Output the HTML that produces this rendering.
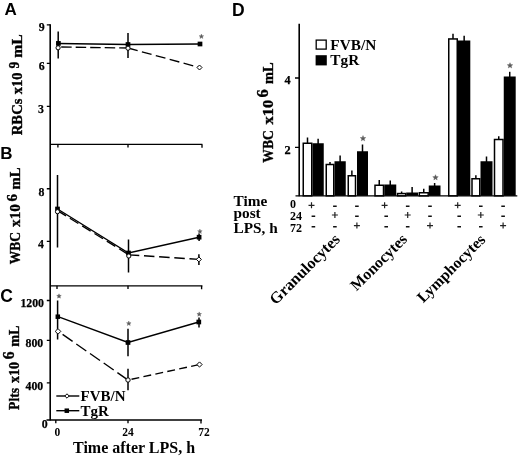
<!DOCTYPE html>
<html>
<head>
<meta charset="utf-8">
<title>Figure</title>
<style>
html,body{margin:0;padding:0;background:#fff;}
body{width:520px;height:456px;overflow:hidden;}
svg{display:block;filter:blur(0.35px);}
text{font-family:"Liberation Serif",serif;font-weight:bold;fill:#000;}
.sans{font-family:"Liberation Sans",sans-serif;font-weight:bold;}
.pm{font-family:"Liberation Sans",sans-serif;font-weight:normal;fill:#333;font-size:10.5px;text-anchor:middle;}
.star{font-family:"Liberation Sans",sans-serif;font-weight:normal;fill:#666;font-size:11px;text-anchor:middle;}
.tl{font-size:11.8px;text-anchor:end;stroke:#000;stroke-width:0.25;}
.vl{stroke:#000;stroke-width:0.35;}
.stp{fill:#5a5a5a;stroke:#5a5a5a;stroke-width:0.4;stroke-linejoin:round;}
.ax{stroke:#000;stroke-width:1.6;fill:none;}
.hx{stroke:#000;stroke-width:1.3;fill:none;}
.tk{stroke:#000;stroke-width:1.35;fill:none;}
.ln{stroke:#000;stroke-width:1.4;fill:none;}
.dl{stroke:#000;stroke-width:1.35;fill:none;}
.eb{stroke:#000;stroke-width:1.5;fill:none;}
.sq{fill:#000;stroke:none;}
.dm{fill:#fff;stroke:#000;stroke-width:1;}
.wb{fill:#fff;stroke:#000;stroke-width:1.5;}
.bb{fill:#000;stroke:#000;stroke-width:0.5;}
</style>
</head>
<body>
<svg width="520" height="456" viewBox="0 0 520 456">
<rect x="0" y="0" width="520" height="456" fill="#fff"/>

<!-- LEFT COLUMN: shared y axis -->
<line class="ax" x1="50.2" y1="24.2" x2="50.2" y2="420.6"/>
<line class="hx" x1="50" y1="144.4" x2="202.4" y2="144.4"/>
<line class="hx" x1="50" y1="285.8" x2="202.4" y2="285.8"/>
<line class="hx" x1="46.5" y1="420" x2="202" y2="420"/>
<path class="tk" d="M57.9 144.4v3.2M128 144.4v3.2M202 144.4v3.4"/>
<path class="tk" d="M57 285.8v3.2M128 285.8v3.2M201.6 285.8v3.4"/>
<path class="tk" d="M55.8 420v3.2M128 420v3.2M201 420v3.4"/>
<!-- Panel A -->
<text class="sans" x="4.6" y="14.8" font-size="17">A</text>
<path class="tk" d="M46.8 24.9h3.5M46.8 63.4h3.5M46.8 106.3h3.5"/>
<text class="tl" x="44.6" y="31.4">9</text>
<text class="tl" x="44.6" y="69.7">6</text>
<text class="tl" x="43.8" y="112.9">3</text>
<text transform="translate(21.90,135.20) rotate(-90)" font-size="14" textLength="36.60" lengthAdjust="spacingAndGlyphs" class="vl">RBCs</text>
<text transform="translate(21.90,94.30) rotate(-90)" font-size="14" textLength="21.70" lengthAdjust="spacingAndGlyphs" class="vl">x10</text>
<text transform="translate(19.20,68.40) rotate(-90)" font-size="14" textLength="6.80" lengthAdjust="spacingAndGlyphs" class="vl">9</text>
<text transform="translate(21.90,57.70) rotate(-90)" font-size="14" textLength="23.30" lengthAdjust="spacingAndGlyphs" class="vl">mL</text>
<path class="eb" d="M58.2 31.4v27M128 33v25"/>
<line class="dl" x1="58.2" y1="47" x2="128" y2="48" stroke-dasharray="10.5 4" stroke-dashoffset="-3"/>
<line class="dl" x1="128" y1="48" x2="199.5" y2="67.5" stroke-dasharray="10 4.4" stroke-dashoffset="0"/>
<polyline class="ln" points="58.2,43.5 128,44.5 200,44"/>
<rect class="sq" x="56.05" y="41.05" width="4.7" height="4.7"/>
<rect class="sq" x="125.65" y="42.15" width="4.7" height="4.7"/>
<rect class="sq" x="197.65" y="41.65" width="4.7" height="4.7"/>
<circle class="dm" cx="58.1" cy="47.8" r="2.1"/>
<circle class="dm" cx="128" cy="48.2" r="2.1"/>
<path class="dm" d="M199.5 65.0l2.5 2.5l-2.5 2.5l-2.5 -2.5z"/>
<polygon class="stp" points="201.40,34.10 202.02,35.65 203.68,35.76 202.40,36.82 202.81,38.44 201.40,37.55 199.99,38.44 200.40,36.82 199.12,35.76 200.78,35.65"/>
<!-- Panel B -->
<text class="sans" x="0.3" y="158.6" font-size="17">B</text>
<path class="tk" d="M46.8 188.7h3.5M46.8 241.3h3.5"/>
<text class="tl" x="44.3" y="196.2">8</text>
<text class="tl" x="43.8" y="248.3">4</text>
<text transform="translate(20.30,264.20) rotate(-90)" font-size="14" textLength="32.20" lengthAdjust="spacingAndGlyphs" class="vl">WBC</text>
<text transform="translate(20.30,226.90) rotate(-90)" font-size="14" textLength="22.70" lengthAdjust="spacingAndGlyphs" class="vl">x10</text>
<text transform="translate(17.00,201.60) rotate(-90)" font-size="14.6" textLength="7.40" lengthAdjust="spacingAndGlyphs" class="vl">6</text>
<text transform="translate(20.30,189.40) rotate(-90)" font-size="14" textLength="22.00" lengthAdjust="spacingAndGlyphs" class="vl">mL</text>
<path class="eb" d="M57.5 175v72.5M128.5 239.5v33M198.9 254.3v10.7M199.1 233.5v7.5"/>
<line class="dl" x1="57.5" y1="210.6" x2="128.8" y2="254.8" stroke-dasharray="10 4.5" stroke-dashoffset="0"/>
<line class="dl" x1="128.8" y1="254.8" x2="198.9" y2="259.4" stroke-dasharray="10.5 4.7" stroke-dashoffset="0"/>
<polyline class="ln" points="57.5,209 128.5,253 199.1,237.2"/>
<rect class="sq" x="55.15" y="206.65" width="4.7" height="4.7"/>
<rect class="sq" x="126.15" y="250.65" width="4.7" height="4.7"/>
<rect class="sq" x="196.75" y="234.85" width="4.7" height="4.7"/>
<circle class="dm" cx="57.5" cy="211.7" r="2.1"/>
<circle class="dm" cx="128.8" cy="256" r="2.1"/>
<path class="dm" d="M198.9 256.9l2.5 2.5l-2.5 2.5l-2.5 -2.5z"/>
<polygon class="stp" points="199.90,229.10 200.52,230.65 202.18,230.76 200.90,231.82 201.31,233.44 199.90,232.55 198.49,233.44 198.90,231.82 197.62,230.76 199.28,230.65"/>
<!-- Panel C -->
<text class="sans" x="0.3" y="302.4" font-size="17.5">C</text>
<path class="tk" d="M46.8 300.5h3.5M46.8 340.4h3.5M46.8 382.8h3.5"/>
<text class="tl" x="44" y="306.9">1200</text>
<text class="tl" x="43.2" y="347">800</text>
<text class="tl" x="43.2" y="389.8">400</text>
<text class="tl" x="47.6" y="427.7">0</text>
<text transform="translate(19.00,409.90) rotate(-90)" font-size="14.5" textLength="21.90" lengthAdjust="spacingAndGlyphs" class="vl">Plts</text>
<text transform="translate(19.00,383.00) rotate(-90)" font-size="14.5" textLength="21.00" lengthAdjust="spacingAndGlyphs" class="vl">x10</text>
<text transform="translate(13.70,359.30) rotate(-90)" font-size="16.5" textLength="7.80" lengthAdjust="spacingAndGlyphs" class="vl">6</text>
<text transform="translate(19.00,346.80) rotate(-90)" font-size="14.5" textLength="21.30" lengthAdjust="spacingAndGlyphs" class="vl">mL</text>
<path class="eb" d="M57.6 300.4v39.2M128 328.7v27.5M128 368.7v21.5M199 317.5v10"/>
<line class="dl" x1="58" y1="331.2" x2="128" y2="380" stroke-dasharray="12.2 4.5" stroke-dashoffset="-5.6"/>
<line class="dl" x1="128" y1="380" x2="199.5" y2="364.5" stroke-dasharray="7.9 4.3" stroke-dashoffset="-3.6"/>
<polyline class="ln" points="58,316.7 128,342.5 198.8,322"/>
<rect class="sq" x="55.55" y="314.45" width="4.5" height="4.5"/>
<rect class="sq" x="125.65" y="340.15" width="4.7" height="4.7"/>
<rect class="sq" x="196.45" y="319.65" width="4.7" height="4.7"/>
<path class="dm" d="M58 328.59999999999997l2.8 2.8l-2.8 2.8l-2.8 -2.8z"/>
<circle class="dm" cx="128" cy="380" r="2.2"/>
<path class="dm" d="M199.5 361.9l2.6 2.6l-2.6 2.6l-2.6 -2.6z"/>
<polygon class="stp" points="59.00,293.80 59.62,295.35 61.28,295.46 60.00,296.52 60.41,298.14 59.00,297.25 57.59,298.14 58.00,296.52 56.72,295.46 58.38,295.35"/>
<polygon class="stp" points="128.80,321.10 129.42,322.65 131.08,322.76 129.80,323.82 130.21,325.44 128.80,324.55 127.39,325.44 127.80,323.82 126.52,322.76 128.18,322.65"/>
<polygon class="stp" points="199.20,311.90 199.82,313.45 201.48,313.56 200.20,314.62 200.61,316.24 199.20,315.35 197.79,316.24 198.20,314.62 196.92,313.56 198.58,313.45"/>
<line class="ln" x1="56.3" y1="396" x2="79.3" y2="396" stroke-width="1.2"/>
<path class="dm" d="M67 393.8l2.2 2.2l-2.2 2.2l-2.2 -2.2z"/>
<text x="80.5" y="400.8" font-size="15">FVB/N</text>
<line class="ln" x1="56.3" y1="410.7" x2="79.3" y2="410.7" stroke-width="1.2"/>
<rect class="sq" x="64.55" y="408.45" width="4.5" height="4.5"/>
<text x="80.5" y="415.5" font-size="15">TgR</text>
<text x="57.3" y="435.7" font-size="11.5" text-anchor="middle">0</text>
<text x="128" y="435.7" font-size="11.5" text-anchor="middle">24</text>
<text x="204" y="435.7" font-size="11.5" text-anchor="middle">72</text>
<text x="73" y="452.6" font-size="16">Time after LPS, h</text>
<!-- PANEL D -->
<text class="sans" x="231.9" y="15.9" font-size="17.5">D</text>
<line class="ax" x1="299.2" y1="23.7" x2="299.2" y2="196.3"/>
<line class="hx" x1="295.5" y1="195.9" x2="517.3" y2="195.9" stroke-width="1.9"/>
<path class="tk" d="M295 78h4M295 147.4h4"/>
<text class="tl" x="290.6" y="84.4" style="font-size:12.3px">4</text>
<text class="tl" x="290.6" y="153.9" style="font-size:12.3px">2</text>
<text transform="translate(272.50,162.70) rotate(-90)" font-size="14" textLength="32.50" lengthAdjust="spacingAndGlyphs" class="vl">WBC</text>
<text transform="translate(272.50,124.50) rotate(-90)" font-size="14" textLength="24.60" lengthAdjust="spacingAndGlyphs" class="vl">x10</text>
<text transform="translate(267.70,97.60) rotate(-90)" font-size="16.5" textLength="8.20" lengthAdjust="spacingAndGlyphs" class="vl">6</text>
<text transform="translate(272.50,84.00) rotate(-90)" font-size="14" textLength="21.60" lengthAdjust="spacingAndGlyphs" class="vl">mL</text>
<rect x="316.2" y="40.1" width="10" height="9" fill="#fff" stroke="#000" stroke-width="1.3"/>
<rect x="315.6" y="55.2" width="11.2" height="10.2" fill="#000"/>
<text x="330.3" y="49.6" font-size="15.3">FVB/N</text>
<text x="330.3" y="65.2" font-size="15.3">TgR</text>
<path class="eb" d="M307.50 137.5V143.5" stroke-width="1.7"/>
<rect class="wb" x="303.25" y="143.25" width="8.50" height="52.55" stroke-width="1.5"/>
<path class="eb" d="M318.12 138.75V144.25" stroke-width="1.7"/>
<rect class="sq" x="312.50" y="143.25" width="11.25" height="52.55"/>
<path class="eb" d="M330.00 162V164.75" stroke-width="1.7"/>
<rect class="wb" x="326.25" y="164.50" width="7.50" height="31.30" stroke-width="1.5"/>
<path class="eb" d="M340.12 155.5V162.25" stroke-width="1.7"/>
<rect class="sq" x="334.50" y="161.25" width="11.25" height="34.55"/>
<path class="eb" d="M351.88 170.5V176" stroke-width="1.7"/>
<rect class="wb" x="348.25" y="175.75" width="7.25" height="20.05" stroke-width="1.5"/>
<path class="eb" d="M362.50 144.5V152.25" stroke-width="1.7"/>
<rect class="sq" x="357.00" y="151.25" width="11.00" height="44.55"/>
<path class="eb" d="M379.25 180V185.5" stroke-width="1.7"/>
<rect class="wb" x="375.00" y="185.25" width="8.50" height="10.55" stroke-width="1.5"/>
<path class="eb" d="M390.25 180.5V185.5" stroke-width="1.7"/>
<rect class="sq" x="384.25" y="184.50" width="12.00" height="11.30"/>
<path class="eb" d="M401.62 191.5V194.0" stroke-width="1.7"/>
<rect class="wb" x="397.55" y="193.55" width="8.15" height="2.25" stroke-width="1.1"/>
<path class="eb" d="M412.12 187V193.5" stroke-width="1.7"/>
<rect class="sq" x="406.25" y="192.50" width="11.75" height="3.30"/>
<path class="eb" d="M423.75 188.75V193.2" stroke-width="1.7"/>
<rect class="wb" x="419.30" y="192.75" width="8.90" height="3.05" stroke-width="1.1"/>
<path class="eb" d="M434.62 183V186.5" stroke-width="1.7"/>
<rect class="sq" x="428.75" y="185.50" width="11.75" height="10.30"/>
<path class="eb" d="M453.00 33.8V39.2" stroke-width="1.7"/>
<rect class="wb" x="448.75" y="38.95" width="8.50" height="156.85" stroke-width="1.5"/>
<path class="eb" d="M464.15 35.8V41.5" stroke-width="1.7"/>
<rect class="sq" x="458.00" y="40.50" width="12.30" height="155.30"/>
<path class="eb" d="M475.88 175.3V179" stroke-width="1.7"/>
<rect class="wb" x="472.00" y="178.75" width="7.75" height="17.05" stroke-width="1.5"/>
<path class="eb" d="M486.50 156.5V162.25" stroke-width="1.7"/>
<rect class="sq" x="480.50" y="161.25" width="12.00" height="34.55"/>
<path class="eb" d="M498.75 136.2V139.75" stroke-width="1.7"/>
<rect class="wb" x="494.50" y="139.50" width="8.50" height="56.30" stroke-width="1.5"/>
<path class="eb" d="M509.73 71.8V77.5" stroke-width="1.7"/>
<rect class="sq" x="503.75" y="76.50" width="11.95" height="119.30"/>
<polygon class="stp" points="363.00,135.60 363.73,137.49 365.76,137.60 364.19,138.89 364.70,140.85 363.00,139.75 361.30,140.85 361.81,138.89 360.24,137.60 362.27,137.49"/>
<polygon class="stp" points="435.50,174.70 436.23,176.59 438.26,176.70 436.69,177.99 437.20,179.95 435.50,178.85 433.80,179.95 434.31,177.99 432.74,176.70 434.77,176.59"/>
<polygon class="stp" points="510.00,62.70 510.73,64.59 512.76,64.70 511.19,65.99 511.70,67.95 510.00,66.85 508.30,67.95 508.81,65.99 507.24,64.70 509.27,64.59"/>
<text x="233.5" y="206.2" font-size="15.3">Time</text>
<text x="233.5" y="217.9" font-size="15.3">post</text>
<text x="233.5" y="233.3" font-size="15.3">LPS, h</text>
<text x="293" y="207.5" font-size="12" text-anchor="middle">0</text>
<text x="296" y="219.8" font-size="12" text-anchor="middle">24</text>
<text x="296" y="231.6" font-size="12" text-anchor="middle">72</text>
<path d="M308.50 205.30h6.0M311.50 202.30v6.0M331.90 215.00h6.0M334.90 212.00v6.0M353.90 225.60h6.0M356.90 222.60v6.0M381.60 205.30h6.0M384.60 202.30v6.0M404.70 215.00h6.0M407.70 212.00v6.0M427.00 225.60h6.0M430.00 222.60v6.0M454.70 205.30h6.0M457.70 202.30v6.0M477.80 215.00h6.0M480.80 212.00v6.0M500.10 225.60h6.0M503.10 222.60v6.0" stroke="#222" stroke-width="1.2" fill="none"/>
<path d="M333.10 206.20h3.6M355.10 206.20h3.6M311.60 216.20h3.6M355.10 216.20h3.6M311.60 226.80h3.6M333.10 226.80h3.6M405.90 206.20h3.6M428.20 206.20h3.6M384.40 216.20h3.6M428.20 216.20h3.6M384.40 226.80h3.6M405.90 226.80h3.6M479.00 206.20h3.6M501.30 206.20h3.6M457.40 216.20h3.6M501.30 216.20h3.6M457.40 226.80h3.6M479.00 226.80h3.6" stroke="#111" stroke-width="1.5" fill="none"/>
<text transform="translate(340.9,240.3) rotate(-45)" font-size="16.1" text-anchor="end">Granulocytes</text>
<text transform="translate(408,240.1) rotate(-45)" font-size="15.8" text-anchor="end">Monocytes</text>
<text transform="translate(486.2,240.6) rotate(-45)" font-size="15.7" text-anchor="end">Lymphocytes</text>
</svg>
</body>
</html>
